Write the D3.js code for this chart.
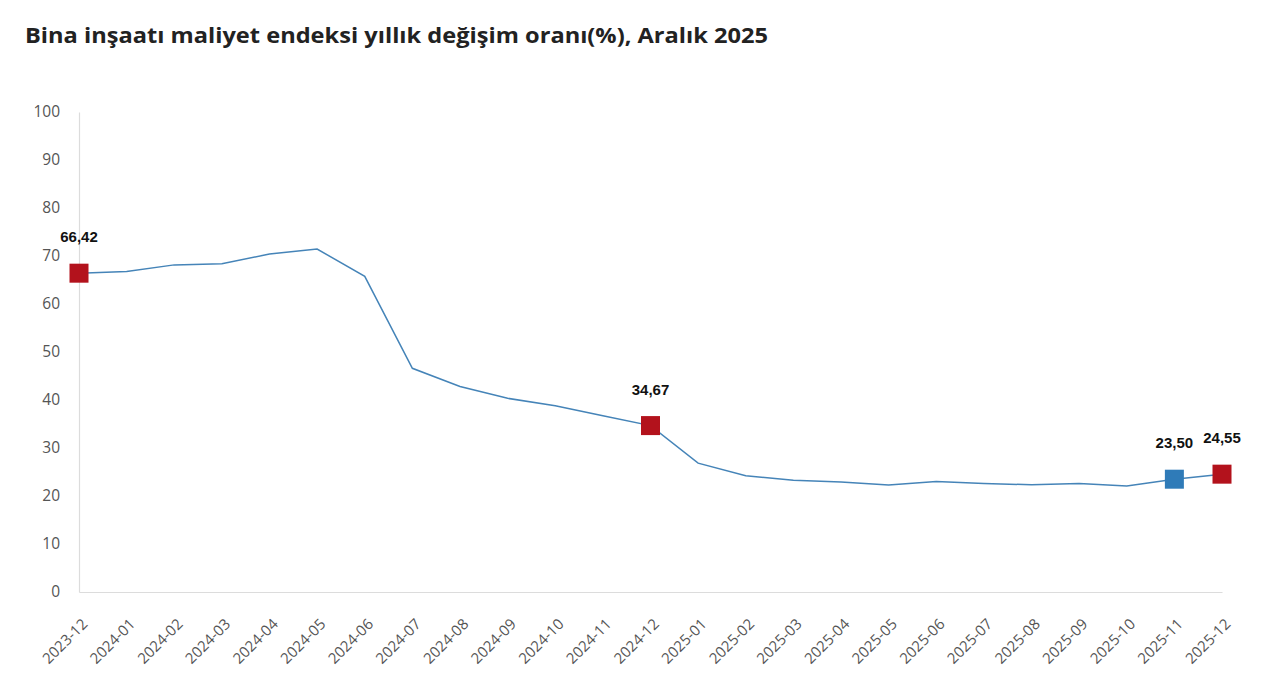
<!DOCTYPE html>
<html><head><meta charset="utf-8">
<script src="https://cdn.jsdelivr.net/npm/d3@7"></script>
<style>
html,body{margin:0;padding:0;background:#fff;}
svg{display:block;}
</style></head>
<body>
<svg id="chart" width="1280" height="685"></svg>
<script>
const categories = ["2023-12","2024-01","2024-02","2024-03","2024-04","2024-05","2024-06","2024-07","2024-08","2024-09","2024-10","2024-11","2024-12","2025-01","2025-02","2025-03","2025-04","2025-05","2025-06","2025-07","2025-08","2025-09","2025-10","2025-11","2025-12"];
const values = [66.42,66.75,68.15,68.4,70.4,71.45,65.75,46.6,42.8,40.35,38.8,36.7,34.67,26.85,24.2,23.3,22.9,22.3,23.0,22.6,22.35,22.6,22.1,23.50,24.55];
const highlights = [
  {cat:"2023-12", label:"66,42", color:"#b3121c"},
  {cat:"2024-12", label:"34,67", color:"#b3121c"},
  {cat:"2025-11", label:"23,50", color:"#2f7bb8"},
  {cat:"2025-12", label:"24,55", color:"#b3121c"}
];
const yTicks = [0,10,20,30,40,50,60,70,80,90,100];
const title = "Bina inşaatı maliyet endeksi yıllık değişim oranı(%), Aralık 2025";

const svg = d3.select("#chart");
const x = d3.scalePoint().domain(categories).range([79, 1222]);
const y = d3.scaleLinear().domain([0, 100]).range([592, 112]);

svg.append("text").attr("x", 25).attr("y", 43)
  .attr("font-family", "'Open Sans', 'Noto Sans', sans-serif")
  .attr("font-weight", 700).attr("font-size", 22).attr("fill", "#222")
  .attr("textLength", 743).attr("lengthAdjust", "spacingAndGlyphs")
  .text(title);

// y axis
const yAxis = svg.append("g").attr("transform", "translate(79,0)")
  .call(d3.axisLeft(y).tickValues(yTicks).tickSize(0).tickPadding(19));
yAxis.select(".domain").attr("stroke", "#dcdcdc").attr("stroke-width", 1.2);
yAxis.selectAll("text").attr("font-family", "'Open Sans', 'Noto Sans', sans-serif")
  .attr("font-size", 15.5).attr("fill", "#555");

// x axis
const xAxis = svg.append("g").attr("transform", "translate(0,592)")
  .call(d3.axisBottom(x).tickSize(0).tickPadding(0));
xAxis.select(".domain").attr("stroke", "#dcdcdc").attr("stroke-width", 1.2);
xAxis.selectAll("text")
  .attr("font-family", "'Open Sans', 'Noto Sans', sans-serif")
  .attr("font-size", 15).attr("fill", "#555")
  .attr("text-anchor", "end").attr("dy", null).attr("y", 0)
  .attr("transform", "translate(9,33) rotate(-45)");

const data = categories.map((c, i) => ({cat: c, v: values[i]}));
svg.append("path").datum(data)
  .attr("fill", "none").attr("stroke", "#4584b8").attr("stroke-width", 1.5)
  .attr("d", d3.line().x(d => x(d.cat)).y(d => y(d.v)));

const hl = highlights.map(h => ({...h, v: values[categories.indexOf(h.cat)]}));
const s = 19;
svg.selectAll("rect.mk").data(hl).join("rect").attr("class","mk")
  .attr("x", d => x(d.cat) - s/2).attr("y", d => y(d.v) - s/2)
  .attr("width", s).attr("height", s).attr("fill", d => d.color);
svg.selectAll("text.lbl").data(hl).join("text").attr("class","lbl")
  .attr("x", d => x(d.cat)).attr("y", d => y(d.v) - 31)
  .attr("text-anchor", "middle")
  .attr("font-family", "'Liberation Sans', Arial, sans-serif")
  .attr("font-weight", 700).attr("font-size", 15).attr("fill", "#111")
  .text(d => d.label);
</script>
</body></html>
